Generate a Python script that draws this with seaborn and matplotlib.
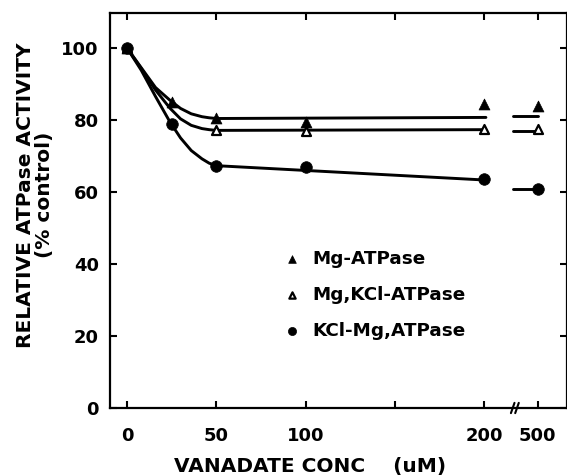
import numpy as np
import matplotlib
matplotlib.use("Agg")
import matplotlib.pyplot as plt
import seaborn as sns
import pandas as pd

# measured points
conc = [0, 25, 50, 100, 200, 500]
mg_atpase = [100, 85.0, 80.5, 79.3, 84.4, 83.9]
mg_kcl_atpase = [100, np.nan, 77.2, 77.0, 77.5, 77.5]
kcl_mg_atpase = [100, 78.8, 67.2, 67.0, 63.5, 60.7]

# hand-drawn fit curves
fit_conc = [0, 8, 16, 24, 30, 36, 42, 46, 50, 210]
mg_fit = [100, 94.5, 89.0, 85.5, 83.2, 81.7, 80.9, 80.6, 80.4, 80.7]
mg_kcl_fit = [100, 94.3, 88.3, 83.3, 80.3, 78.5, 77.6, 77.3, 77.1, 77.3]
kcl_mg_fit = [100, 93.8, 86.5, 79.5, 75.0, 71.5, 69.2, 68.0, 67.3, 63.3]

# short segments after the axis break
fit2_conc = [360, 500]
mg_fit2 = [81.0, 81.0]
mg_kcl_fit2 = [77.0, 77.0]
kcl_mg_fit2 = [60.8, 60.8]

tick_conc = [0, 50, 100, 150, 200, 500]
tick_labels = ["0", "50", "100", "", "200", "500"]


def xpos(c):
    """broken axis: 200-500 squeezed into 30 units"""
    c = np.asarray(c, dtype=float)
    return np.where(c <= 200, c, 200 + (c - 200) * 0.1)


sns.set_theme(style="ticks")
plt.rcParams['font.family'] = ['DejaVu Sans']
plt.rcParams['font.weight'] = 'bold'
for key in ("text.color", "axes.labelcolor", "xtick.color", "ytick.color", "axes.edgecolor"):
    plt.rcParams[key] = "black"

fig = plt.figure(figsize=(5.67, 4.76), dpi=100)
ax = fig.add_axes([110 / 567, 68 / 476, 457 / 567, 395 / 476])

series = [
    ("Mg-ATPase", mg_atpase, mg_fit, mg_fit2),
    ("Mg,KCl-ATPase", mg_kcl_atpase, mg_kcl_fit, mg_kcl_fit2),
    ("KCl-Mg,ATPase", kcl_mg_atpase, kcl_mg_fit, kcl_mg_fit2),
]

for name, pts, fit, fit2 in series:
    df = pd.DataFrame({"x": xpos(fit_conc), "y": fit})
    sns.lineplot(data=df, x="x", y="y", ax=ax, color="black", lw=2.1,
                 sort=False, estimator=None)
    df2 = pd.DataFrame({"x": xpos(fit2_conc), "y": fit2})
    sns.lineplot(data=df2, x="x", y="y", ax=ax, color="black", lw=2.1,
                 sort=False, estimator=None)

# points
styles = {
    "Mg,KCl-ATPase": dict(marker="^", s=42, facecolor="white", edgecolor="black", linewidth=1.6, zorder=3),
    "Mg-ATPase": dict(marker="^", s=62, color="black", edgecolor="black", linewidth=0.5, zorder=4),
    "KCl-Mg,ATPase": dict(marker="o", s=70, color="black", edgecolor="black", linewidth=0.5, zorder=4),
}
for name, pts, fit, fit2 in series:
    df = pd.DataFrame({"x": xpos(conc), "y": pts}).dropna()
    sns.scatterplot(data=df, x="x", y="y", ax=ax, label=name, **styles[name])

h, l = ax.get_legend_handles_labels()
ax.legend(h, l, loc="upper left", bbox_to_anchor=(0.379, 0.40), frameon=False,
          fontsize=13.2, markerscale=0.7, handlelength=1.0, handletextpad=0.6,
          labelspacing=0.97, borderpad=0, borderaxespad=0)

ax.set_xlim(-9.5, 246.4)
ax.set_ylim(0, 109.7)

ax.set_xticks(xpos(tick_conc))
ax.set_xticklabels(tick_labels)
ax.set_yticks([0, 20, 40, 60, 80, 100])
ax.tick_params(axis="both", direction="in", length=5, width=1.5, labelsize=13,
               top=True, right=True, colors="black")
ax.tick_params(axis="x", pad=14)
ax.tick_params(axis="y", pad=8)
for t in ax.get_xticklabels() + ax.get_yticklabels():
    t.set_fontweight("bold")

for sp in ax.spines.values():
    sp.set_linewidth(1.6)
    sp.set_color("black")

# axis break marks
tr = ax.get_xaxis_transform()
for dx in (0.0, 2.4):
    ax.plot([215.0 + dx, 217.0 + dx], [-0.013, 0.013], transform=tr, color="black",
            lw=1.5, clip_on=False)

ax.set_xlabel("VANADATE CONC    (uM)", fontsize=14.5, fontweight="bold")
ax.xaxis.set_label_coords(0.4376, -0.125)
ax.xaxis.label.set_verticalalignment("top")
ax.set_ylabel("RELATIVE ATPase ACTIVITY\n(% control)", fontsize=14.5,
              fontweight="bold", linespacing=1.0)
ax.yaxis.set_label_coords(-0.122, 0.539)

fig.savefig("out.png", dpi=100)
